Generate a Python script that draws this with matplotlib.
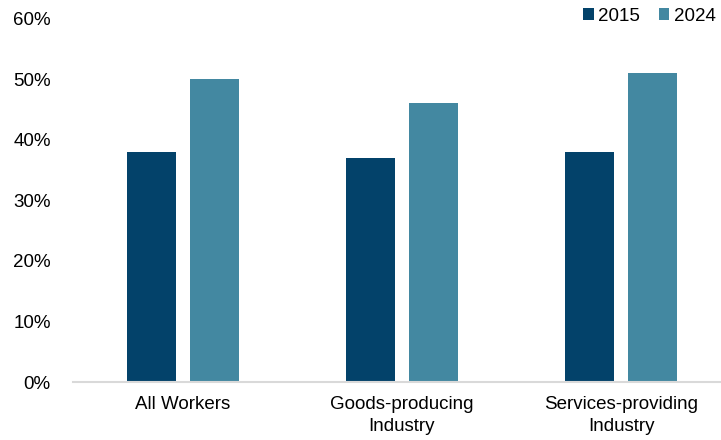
import numpy as np
import matplotlib.pyplot as plt

plt.rcParams['font.family'] = ['Liberation Sans', 'DejaVu Sans']

# share of workers, percent
categories = ['All Workers', 'Goods-producing\nIndustry', 'Services-providing\nIndustry']
share_2015 = [38, 37, 38]
share_2024 = [50, 46, 51]

c2015 = '#03426a'
c2024 = '#4388a1'

fig = plt.figure(figsize=(7.21, 4.40), dpi=100)
ax = fig.add_axes([73/721, 58/440, 658/721, 363.6/440])

x = np.arange(len(categories))
w = 0.224
off = 0.144
ax.bar(x - off, share_2015, width=w, color=c2015, label='2015')
ax.bar(x + off, share_2024, width=w, color=c2024, label='2024')

ax.set_xlim(-0.5, len(categories) - 0.5)
ax.set_ylim(0, 60)
ax.set_yticks(range(0, 61, 10))
ax.set_yticklabels([f'{v}%' for v in range(0, 61, 10)])
ax.set_xticks(x)
ax.set_xticklabels(categories, linespacing=1.4)

ax.tick_params(axis='y', length=0, pad=16, labelsize=13.5, labelcolor='#000000')
ax.tick_params(axis='x', length=0, pad=10, labelsize=13.5, labelcolor='#000000')

for s in ['top', 'right', 'left']:
    ax.spines[s].set_visible(False)
ax.spines['bottom'].set_color('#d9d9d9')
ax.spines['bottom'].set_linewidth(1.5)

ax.legend(loc='upper right', bbox_to_anchor=(727/721, 1.008), bbox_transform=fig.transFigure,
          ncol=2, frameon=False, fontsize=13.5, handlelength=0.55, handleheight=0.55,
          handletextpad=0.25, columnspacing=1.0, borderaxespad=0.2)

fig.savefig('out.png', dpi=100)
